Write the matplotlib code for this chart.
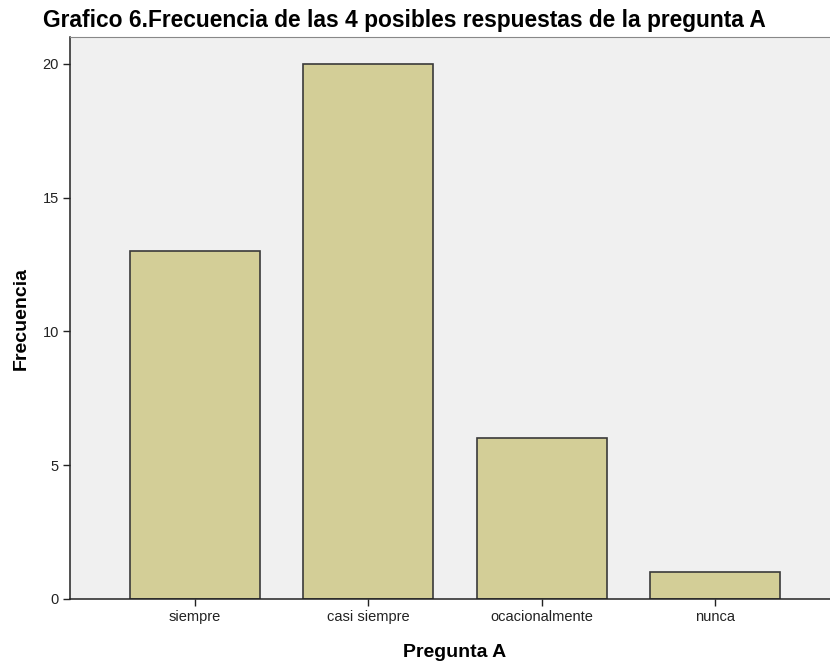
import matplotlib
matplotlib.use('Agg')
import matplotlib.pyplot as plt

plt.rcParams['font.family'] = ['Liberation Sans', 'DejaVu Sans']

# respuestas de la pregunta A
categorias = ['siempre', 'casi siempre', 'ocacionalmente', 'nunca']
frecuencias = [13, 20, 6, 1]
yticks = [0, 5, 10, 15, 20]

fig = plt.figure(figsize=(8.3, 6.62), dpi=100)
ax = fig.add_axes([70/830, 63/662, 770/830, 562/662])
ax.set_facecolor('#F0F0F0')

x = range(len(categorias))
ax.bar(x, frecuencias, width=0.75, color='#D3CE97', edgecolor='#3A3A3A', linewidth=1.2, zorder=2)

ax.set_xlim(-0.72, 3.72)
ax.set_ylim(0, 21)
ax.set_xticks(list(x))
ax.set_xticklabels(categorias, fontsize=10.5)
ax.set_yticks(yticks)
ax.set_yticklabels([str(v) for v in yticks], fontsize=10.5)
ax.tick_params(direction='out', length=5, width=1, color='#222222', labelcolor='#222222', pad=3)

for s in ['left', 'bottom']:
    ax.spines[s].set_color('#222222')
    ax.spines[s].set_linewidth(1.1)
ax.spines['top'].set_color('#888888')
ax.spines['right'].set_visible(False)

ax.set_xlabel('Pregunta A', fontsize=14, fontweight='bold', labelpad=14)
ax.set_ylabel('Frecuencia', fontsize=14, fontweight='bold', labelpad=9)
fig.text(43/830, 1 - 21/662, 'Grafico 6.Frecuencia de las 4 posibles respuestas de la pregunta A',
         fontsize=16.4, fontweight='bold', va='center', ha='left')

fig.savefig('out.png', dpi=100)
